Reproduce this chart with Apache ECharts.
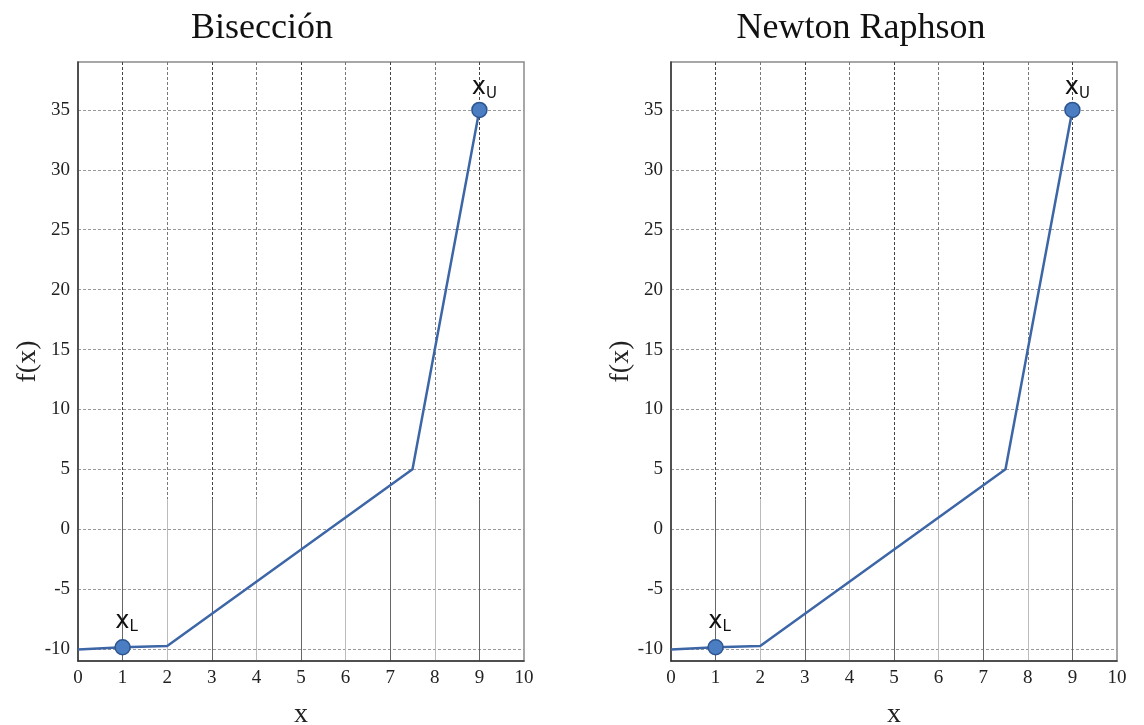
<!DOCTYPE html>
<html>
<head>
<meta charset="utf-8">
<script src="https://cdn.jsdelivr.net/npm/echarts@6/dist/echarts.min.js"></script>
<style>
  html, body { margin: 0; padding: 0; background: #fff; }
  #char { width: 1144px; height: 725px; }
</style>
</head>
<body>
<div id="char"></div>
<script>
// datos
var titles = ["Bisección", "Newton Raphson"];
var xVals = [0, 1, 2, 7.5, 9];
var fBiseccion = [-10.05, -9.85, -9.75, 5, 35];
var fNewton = [-10.05, -9.85, -9.75, 5, 35];
var xL = [1, -9.85];
var xU = [9, 35];
var yTicks = [-10, 35]; // rango de etiquetas, paso 5

var serif = "Liberation Serif";
var lineColor = "#3d66a6";

var chart = echarts.init(document.getElementById("char"));

var grids = [], xAxes = [], yAxes = [], series = [], graphics = [];

function addPanel(left, fvals, title, titleX) {
  var w = 446, top = 62, h = 599;
  var pxPerUnit = h / 50;
  var zeroY = top + 39 * pxPerUnit;
  var splitY = zeroY - 2.5 * pxPerUnit;
  var base = grids.length;

  // grid principal (serie)
  grids.push({ left: left, top: top, width: w, height: h, outerBoundsMode: "none", show: true, borderColor: "#8a8a8a", borderWidth: 1.5, backgroundColor: "transparent" });
  xAxes.push({
    gridIndex: base, type: "value", min: 0, max: 10, interval: 1,
    axisLine: { show: true, onZero: false, lineStyle: { color: "#333", width: 1.5 } },
    axisTick: { show: false },
    axisLabel: { color: "#222", fontFamily: serif, fontSize: 19, margin: 8 },
    splitLine: { show: false },
    name: "x", nameLocation: "middle", nameGap: 40,
    nameTextStyle: { fontFamily: serif, fontSize: 28, color: "#222" }
  });
  yAxes.push({
    gridIndex: base, type: "value", min: -11, max: 39,
    axisLine: { show: true, onZero: false, lineStyle: { color: "#333", width: 1.5 } },
    axisTick: { show: false }, axisLabel: { show: false }, splitLine: { show: false },
    name: "f(x)", nameLocation: "middle", nameGap: 36,
    nameTextStyle: { fontFamily: serif, fontSize: 28, color: "#222" }
  });

  // lineas horizontales y etiquetas
  var yTop = zeroY - yTicks[1] * pxPerUnit;
  var yBot = zeroY - yTicks[0] * pxPerUnit;
  grids.push({ left: left, top: yTop, width: w, height: yBot - yTop, outerBoundsMode: "none" });
  xAxes.push({ gridIndex: base + 1, type: "value", min: 0, max: 10, show: false });
  yAxes.push({
    gridIndex: base + 1, type: "value", min: yTicks[0], max: yTicks[1], interval: 5,
    axisLine: { show: false }, axisTick: { show: false },
    axisLabel: { color: "#222", fontFamily: serif, fontSize: 19, margin: 8 },
    splitLine: { show: true, lineStyle: { color: "#999", type: [3, 2], width: 1 } }
  });

  // verticales: arriba punteadas, abajo continuas
  grids.push({ left: left, top: top, width: w, height: splitY - top, outerBoundsMode: "none" });
  xAxes.push({
    gridIndex: base + 2, type: "value", min: 0, max: 10, interval: 1,
    axisLine: { show: false }, axisTick: { show: false }, axisLabel: { show: false },
    splitLine: { show: true, showMinLine: false, showMaxLine: false, lineStyle: { color: ["#444", "#777"], type: [3, 2], width: 1 } }
  });
  yAxes.push({ gridIndex: base + 2, type: "value", min: 0, max: 1, show: false });

  grids.push({ left: left, top: splitY, width: w, height: top + h - splitY, outerBoundsMode: "none" });
  xAxes.push({
    gridIndex: base + 3, type: "value", min: 0, max: 10, interval: 1,
    axisLine: { show: false }, axisTick: { show: false }, axisLabel: { show: false },
    splitLine: { show: true, showMinLine: false, showMaxLine: false, lineStyle: { color: ["#666", "#bbb"], width: 1 } }
  });
  yAxes.push({ gridIndex: base + 3, type: "value", min: 0, max: 1, show: false });

  series.push({
    type: "line", xAxisIndex: base, yAxisIndex: base,
    data: xVals.map(function (x, i) { return [x, fvals[i]]; }),
    showSymbol: false, lineStyle: { color: lineColor, width: 2.5 }, z: 5
  });

  var rich = {
    a: { fontFamily: "DejaVu Sans", fontSize: 24, color: "#111" },
    L: { fontFamily: "DejaVu Sans", fontSize: 15, color: "#111", padding: [12, 0, 0, 0] }
  };
  series.push({
    type: "scatter", xAxisIndex: base, yAxisIndex: base,
    data: [
      { value: xL, label: { formatter: "{a|x}{L|L}", offset: [4, -2] } },
      { value: xU, label: { formatter: "{a|x}{L|U}", offset: [5, 2] } }
    ],
    symbolSize: 15,
    itemStyle: { color: "#4a7dc2", borderColor: "#2d558f", borderWidth: 1.5, opacity: 1 },
    label: { show: true, position: "top", distance: 2, rich: rich },
    z: 6
  });

  graphics.push({
    type: "text", x: titleX, y: 29,
    style: { text: title, fontFamily: serif, fontSize: 36, fill: "#111", align: "center", verticalAlign: "middle" }
  });
}

addPanel(78, fBiseccion, titles[0], 262);
addPanel(671, fNewton, titles[1], 861);

chart.setOption({
  animation: false,
  grid: grids,
  xAxis: xAxes,
  yAxis: yAxes,
  series: series,
  graphic: graphics
});
</script>
</body>
</html>
